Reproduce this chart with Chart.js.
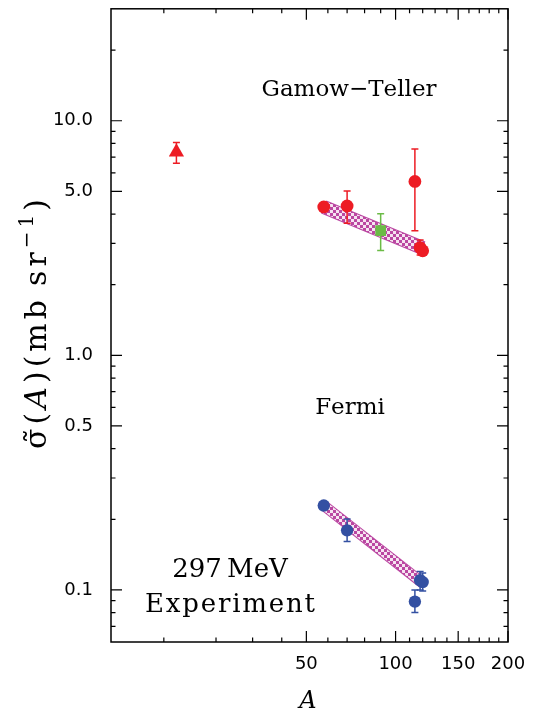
<!DOCTYPE html>
<html><head><meta charset="utf-8">
<script src="https://cdn.jsdelivr.net/npm/chart.js@4.4.1/dist/chart.umd.min.js"></script>
<style>html,body{margin:0;padding:0;background:#fff;}#wrap{width:537px;height:713px;}</style>
</head><body><div id="wrap"><canvas id="c" width="537" height="713"></canvas></div>
<script>
// ---- data (A = mass number, values in mb/sr) ----
const gtA   = [58, 70, 114, 118, 120];
const gtVal = [4.29, 4.33, 5.51, 2.88, 2.79];
const gtHi  = [null, 5.02, 7.58, 3.10, null];
const gtLo  = [null, 3.66, 3.40, 2.68, null];
const zrA   = [90];
const zrVal = [3.40];
const zrHi  = [4.01];
const zrLo  = [2.80];
const cA    = [12];
const cVal  = [7.35];
const cHi   = [8.07];
const cLo   = [6.59];
const fA    = [58, 70, 114, 118, 120];
const fVal  = [0.229, 0.1795, 0.0892, 0.110, 0.108];
const fHi   = [null, 0.2005, 0.100, 0.120, 0.118];
const fLo   = [null, 0.1609, 0.0802, 0.100, 0.099];
const gtBandA   = [58, 120];
const gtBandVal = [4.29, 2.87];
const fBandA    = [58, 120];
const fBandVal  = [0.229, 0.107];
const xTickA  = [50, 100, 150, 200];
const xMinorA = [10, 20, 30, 40, 60, 70, 80, 90, 110, 120, 130, 140, 160, 170, 180, 190];
const yTicks  = [0.1, 0.5, 1, 5, 10];
const yMinor  = [0.07, 0.08, 0.09, 0.2, 0.3, 0.4, 0.6, 0.7, 0.8, 0.9, 2, 3, 4, 6, 7, 8, 9, 20];
const xMinA = 4, xMaxA = 200, yMin = 0.06, yMax = 30;

const RED = '#ed1c24', BLUE = '#3350a2', GREEN = '#6bbb46', MAG = '#bb47a2';
const cbrt = Math.cbrt;
const pts = (A, V) => A.map((a, i) => ({x: cbrt(a), y: V[i]}));

const canvas = document.getElementById('c');
const ctx0 = canvas.getContext('2d');
function makePattern() {
  const t = document.createElement('canvas'); t.width = 6; t.height = 6;
  const g = t.getContext('2d');
  g.fillStyle = MAG; g.fillRect(0, 0, 6, 6);
  g.fillStyle = '#f6e4f1'; g.fillRect(0, 0, 3, 3); g.fillRect(3, 3, 3, 3);
  return ctx0.createPattern(t, 'repeat');
}
const pattern = makePattern();

function drawRich(ctx, segs, x, y, align, spacing) {
  const clusters = [];
  segs.forEach(s => {
    const chars = Array.from(s.t);
    chars.forEach(ch => {
      const cp = ch.codePointAt(0);
      if (cp >= 0x300 && cp <= 0x36f && clusters.length) clusters[clusters.length - 1].c += ch;
      else clusters.push({c: ch, f: s.f, dy: s.dy || 0});
    });
  });
  let total = 0;
  clusters.forEach(k => { ctx.font = k.f; k.w = ctx.measureText(k.c).width; total += k.w; });
  total += spacing * (clusters.length - 1);
  let cx = align === 'center' ? x - total / 2 : x;
  ctx.textAlign = 'left'; ctx.textBaseline = 'alphabetic';
  clusters.forEach(k => { ctx.font = k.f; ctx.fillText(k.c, cx, y + k.dy); cx += k.w + spacing; });
}

const deco = {
  id: 'deco',
  beforeDatasetDraw(chart, args) {
    const ds = chart.data.datasets[args.index];
    if (!ds.errHi) return;
    const {ctx} = chart, xs = chart.scales.x, ys = chart.scales.y;
    ctx.save();
    ctx.strokeStyle = ds.backgroundColor; ctx.lineWidth = 1.5;
    ds.data.forEach((p, i) => {
      const hi = ds.errHi[i], lo = ds.errLo[i];
      if (hi == null) return;
      const px = xs.getPixelForValue(p.x), y1 = ys.getPixelForValue(hi), y2 = ys.getPixelForValue(lo);
      ctx.beginPath();
      ctx.moveTo(px, y1); ctx.lineTo(px, y2);
      ctx.moveTo(px - 3.5, y1); ctx.lineTo(px + 3.5, y1);
      ctx.moveTo(px - 3.5, y2); ctx.lineTo(px + 3.5, y2);
      ctx.stroke();
    });
    ctx.restore();
  },
  afterDraw(chart) {
    const {ctx, chartArea: a} = chart, xs = chart.scales.x, ys = chart.scales.y;
    ctx.save();
    ctx.strokeStyle = '#000'; ctx.lineWidth = 1.5;
    ctx.strokeRect(a.left, a.top, a.right - a.left, a.bottom - a.top);
    ctx.lineWidth = 1.2;
    ctx.beginPath();
    const xt = (A, L) => { const px = xs.getPixelForValue(cbrt(A));
      ctx.moveTo(px, a.bottom); ctx.lineTo(px, a.bottom - L);
      ctx.moveTo(px, a.top); ctx.lineTo(px, a.top + L); };
    const yt = (v, L) => { const py = ys.getPixelForValue(v);
      ctx.moveTo(a.left, py); ctx.lineTo(a.left + L, py);
      ctx.moveTo(a.right, py); ctx.lineTo(a.right - L, py); };
    xTickA.forEach(A => xt(A, 11)); xMinorA.forEach(A => xt(A, 4.5));
    yTicks.forEach(v => yt(v, 11)); yMinor.forEach(v => yt(v, 4.5));
    ctx.stroke();
    ctx.fillStyle = '#000';
    const S = 'DejaVu Serif';
    drawRich(ctx, [{t: 'Gamow\u2212Teller', f: '23px ' + S}], 349, 96, 'center', 0);
    drawRich(ctx, [{t: 'Fermi', f: '23px ' + S}], 350, 414, 'center', 0);
    drawRich(ctx, [{t: '297\u2009MeV', f: '26px ' + S}], 230, 577, 'center', 0);
    drawRich(ctx, [{t: 'Experiment', f: '26px ' + S}], 230, 612, 'center', 1.8);
    drawRich(ctx, [{t: 'A', f: 'italic 24px ' + S}], 308, 708, 'center', 0);
    ctx.save();
    ctx.translate(46, 324); ctx.rotate(-Math.PI / 2);
    drawRich(ctx, [
      {t: '\u03c3\u0303(', f: '30px ' + S},
      {t: 'A', f: 'italic 30px ' + S},
      {t: ')(mb\u2009sr', f: '30px ' + S},
      {t: '\u22121', f: '20px ' + S, dy: -13},
      {t: ')', f: '30px ' + S}], 0, 0, 'center', 4);
    ctx.restore();
    ctx.restore();
  }
};

new Chart(canvas, {
  type: 'scatter',
  data: {
    datasets: [
      {data: pts(gtA, gtVal), pointStyle: 'circle', pointRadius: 6.4, backgroundColor: RED, borderColor: RED, borderWidth: 0, errHi: gtHi, errLo: gtLo, order: 0},
      {data: pts(zrA, zrVal), pointStyle: 'rect', pointRadius: 7.6, backgroundColor: GREEN, borderColor: GREEN, borderWidth: 0, errHi: zrHi, errLo: zrLo, order: 0},
      {data: pts(cA, cVal), pointStyle: 'triangle', pointRadius: 8.8, backgroundColor: RED, borderColor: RED, borderWidth: 0, errHi: cHi, errLo: cLo, order: 0},
      {data: pts(fA, fVal), pointStyle: 'circle', pointRadius: 6.2, backgroundColor: BLUE, borderColor: BLUE, borderWidth: 0, errHi: fHi, errLo: fLo, order: 0},
      {type: 'line', data: pts(gtBandA, gtBandVal), borderColor: MAG, borderWidth: 14, pointRadius: 0, order: 10},
      {type: 'line', data: pts(gtBandA, gtBandVal), borderColor: pattern, borderWidth: 12, pointRadius: 0, order: 9},
      {type: 'line', data: pts(fBandA, fBandVal), borderColor: MAG, borderWidth: 11, pointRadius: 0, order: 10},
      {type: 'line', data: pts(fBandA, fBandVal), borderColor: pattern, borderWidth: 9, pointRadius: 0, order: 9}
    ]
  },
  options: {
    responsive: false, animation: false, devicePixelRatio: 1,
    layout: {padding: {left: 0, right: 29, top: 5, bottom: 0}},
    plugins: {legend: {display: false}, tooltip: {enabled: false}},
    scales: {
      x: {
        type: 'linear', min: cbrt(xMinA), max: cbrt(xMaxA),
        grid: {display: false, drawTicks: false}, border: {display: false},
        afterBuildTicks: s => { s.ticks = xTickA.map(A => ({value: cbrt(A)})); },
        afterFit: s => { s.height = 71; s.paddingLeft = 0; s.paddingRight = 0; },
        ticks: {autoSkip: false, maxRotation: 0, padding: 12, color: '#000',
          font: {family: 'DejaVu Sans', size: 18},
          callback: v => String(Math.round(v * v * v))}
      },
      y: {
        type: 'logarithmic', min: yMin, max: yMax,
        grid: {display: false, drawTicks: false}, border: {display: false},
        afterBuildTicks: s => { s.ticks = yTicks.map(v => ({value: v})); },
        afterFit: s => { s.width = 111; s.paddingTop = 0; s.paddingBottom = 0; },
        ticks: {autoSkip: false, padding: 18, color: '#000',
          font: {family: 'DejaVu Sans', size: 18},
          callback: v => Number(v).toFixed(1)}
      }
    }
  },
  plugins: [deco]
});
</script></body></html>
